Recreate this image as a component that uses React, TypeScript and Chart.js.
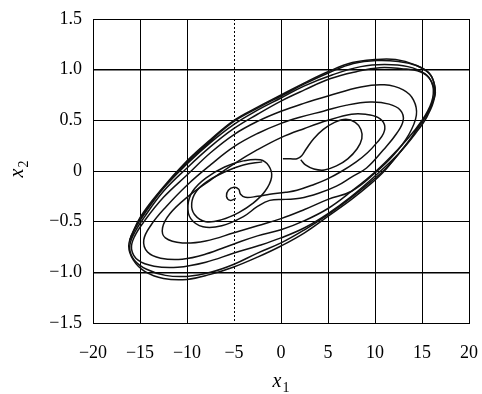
import React, { useEffect, useRef } from "react";
import { Chart, registerables } from "chart.js";

Chart.register(...registerables);

// Axis ticks
const xTicks: number[] = [-20, -15, -10, -5, 0, 5, 10, 15, 20];
const yTicks: number[] = [-1.5, -1.0, -0.5, 0, 0.5, 1.0, 1.5];
const dottedGridX = -5;
const thickGridY: number[] = [-1.0, 1.0];

// Trajectory starting near the right focus (short lead-in + inner right loop)
const rightStartLoop: [number, number][] = [
  [0.2, 0.12], [1.0, 0.12], [1.7, 0.12], [2.2, 0.15], [2.7, 0.22], [3.5, 0.32],
  [4.5, 0.41], [5.7, 0.48], [6.9, 0.51], [7.9, 0.48], [8.5, 0.41], [8.6, 0.32],
  [8.1, 0.22], [7.1, 0.12], [5.9, 0.05], [4.6, 0.01], [3.5, 0.02], [2.6, 0.06],
  [2.1, 0.11],
];

// Trajectory starting at the small loop near the left focus
const leftStartSpiral: [number, number][] = [
  [-4.8, -0.27], [-5.4, -0.29], [-5.8, -0.25], [-5.6, -0.19], [-5.0, -0.16], [-4.5, -0.18],
  [-4.3, -0.23], [-3.8, -0.26], [-2.5, -0.25], [-1.2, -0.23], [0.5, -0.21], [1.7, -0.19],
  [3.3, -0.14], [4.9, -0.08], [6.5, 0.0], [8.0, 0.09], [9.2, 0.18], [10.2, 0.28],
  [10.9, 0.37], [11.0, 0.46], [10.3, 0.53], [9.0, 0.56], [7.5, 0.56], [5.0, 0.5],
  [2.5, 0.42], [0.0, 0.33], [-2.5, 0.21], [-5.0, 0.07], [-7.5, -0.09], [-10.0, -0.26],
  [-11.8, -0.42], [-12.6, -0.56], [-12.3, -0.66], [-10.5, -0.71], [-8.0, -0.69], [-5.0, -0.61],
  [-2.5, -0.54], [0.0, -0.47], [2.5, -0.38], [5.0, -0.28], [7.5, -0.2], [10.0, -0.02],
  [12.0, 0.16], [13.6, 0.36], [14.4, 0.55], [14.1, 0.7], [13.0, 0.8], [11.0, 0.85],
  [8.5, 0.83], [5.0, 0.74], [2.5, 0.67], [0.0, 0.59], [-2.5, 0.49], [-5.0, 0.36],
  [-7.5, 0.18], [-10.0, -0.04], [-12.5, -0.26], [-14.5, -0.49], [-15.6, -0.65], [-15.9, -0.77],
  [-15.2, -0.88], [-13.5, -0.94], [-11.0, -0.95], [-8.0, -0.9], [-5.0, -0.81], [-2.5, -0.74],
  [0.0, -0.66], [2.5, -0.56], [5.0, -0.42], [7.5, -0.25], [10.0, -0.05], [12.5, 0.17],
  [14.3, 0.37], [15.6, 0.55], [16.3, 0.72], [16.1, 0.86], [15.3, 0.96], [13.5, 1.03],
  [11.0, 1.05], [8.5, 1.03], [5.5, 0.95], [2.5, 0.84], [0.0, 0.72], [-2.5, 0.6],
  [-5.0, 0.46], [-7.5, 0.28], [-10.0, 0.07], [-12.5, -0.17], [-14.5, -0.42], [-15.7, -0.6],
  [-16.2, -0.74], [-15.7, -0.88], [-14.5, -0.99], [-12.5, -1.06], [-10.0, -1.07], [-7.5, -1.02],
  [-5.1, -0.95], [-2.5, -0.85], [0.0, -0.74], [2.5, -0.61], [5.1, -0.44], [7.5, -0.28],
  [9.5, -0.13], [11.0, 0.0], [12.5, 0.17], [14.3, 0.37], [15.5, 0.53], [16.2, 0.68],
  [16.4, 0.8], [15.9, 0.95], [14.4, 1.04], [12.5, 1.08], [10.2, 1.09], [7.7, 1.06],
  [5.1, 0.97], [2.5, 0.86], [0.0, 0.74], [-2.5, 0.62], [-5.0, 0.49], [-7.5, 0.3],
  [-10.0, 0.09], [-13.0, -0.22], [-15.0, -0.47], [-16.0, -0.65],
];

// Trajectory around the left focus (double inner loop) spiralling outward
const innerLeftSpiral: [number, number][] = [
  [-2.0, 0.09], [-4.0, 0.06], [-6.0, -0.01], [-7.8, -0.1], [-9.0, -0.2], [-9.5, -0.32],
  [-9.2, -0.43], [-8.0, -0.5], [-6.3, -0.48], [-4.5, -0.41], [-3.0, -0.32], [-1.7, -0.2],
  [-1.0, -0.06], [-1.3, 0.05], [-2.2, 0.11], [-4.0, 0.1], [-6.0, 0.04], [-8.0, -0.07],
  [-9.4, -0.2], [-9.9, -0.34], [-9.6, -0.47], [-8.3, -0.55], [-6.3, -0.54], [-4.0, -0.45],
  [-2.5, -0.35], [-1.2, -0.29], [0.5, -0.28], [2.0, -0.27], [4.0, -0.22], [5.9, -0.15],
  [7.5, -0.06], [9.1, 0.03], [10.9, 0.21], [12.3, 0.37], [13.0, 0.5], [12.7, 0.6],
  [11.5, 0.66], [9.5, 0.68], [7.0, 0.65], [4.5, 0.59], [2.0, 0.53], [0.0, 0.47],
  [-2.5, 0.37], [-5.0, 0.24], [-7.5, 0.06], [-10.0, -0.14], [-12.2, -0.35], [-13.8, -0.53],
  [-14.6, -0.68], [-14.2, -0.8], [-12.8, -0.86], [-10.5, -0.87], [-8.0, -0.82], [-5.0, -0.72],
  [-2.5, -0.64], [0.0, -0.58], [2.5, -0.49], [5.0, -0.37], [7.5, -0.2], [10.0, -0.01],
  [12.3, 0.2], [14.2, 0.4], [15.6, 0.59], [16.2, 0.76], [15.9, 0.9], [14.8, 0.98],
  [12.8, 1.01], [10.5, 1.02], [8.0, 0.98], [5.2, 0.91], [2.5, 0.8], [0.0, 0.69],
  [-2.5, 0.56], [-5.0, 0.42], [-7.5, 0.24], [-10.0, 0.03], [-12.5, -0.2], [-14.5, -0.45],
  [-15.7, -0.63], [-16.1, -0.76], [-15.6, -0.88], [-14.3, -0.97], [-12.3, -1.03], [-10.0, -1.04],
  [-7.5, -1.0], [-5.0, -0.92], [-2.5, -0.81], [0.0, -0.71], [2.5, -0.58], [5.0, -0.43],
  [7.5, -0.26], [9.5, -0.11], [11.2, 0.03], [12.8, 0.2], [14.4, 0.4], [15.6, 0.57],
  [16.3, 0.72], [16.4, 0.82], [15.8, 0.96], [14.2, 1.05], [12.2, 1.1], [10.0, 1.1],
  [7.6, 1.07], [5.0, 0.98], [2.5, 0.87], [0.0, 0.75], [-2.5, 0.63], [-5.0, 0.5],
  [-7.5, 0.31], [-10.0, 0.1], [-12.9, -0.2], [-15.0, -0.46], [-16.1, -0.68],
];

const SERIF = "'Liberation Serif', 'Times New Roman', Times, serif";
const MINUS = "\u2212";

const toPoints = (arr: [number, number][]) => arr.map(([x, y]) => ({ x, y }));

function drawSubLabel(ctx: CanvasRenderingContext2D, main: string, sub: string, cx: number, baseline: number) {
  const mainFont = `italic 20px ${SERIF}`;
  const subFont = `14px ${SERIF}`;
  ctx.font = mainFont;
  const wm = ctx.measureText(main).width;
  ctx.font = subFont;
  const ws = ctx.measureText(sub).width;
  const start = cx - (wm + ws + 1) / 2;
  ctx.textAlign = "left";
  ctx.textBaseline = "alphabetic";
  ctx.font = mainFont;
  ctx.fillText(main, start, baseline);
  ctx.font = subFont;
  ctx.fillText(sub, start + wm + 1, baseline + 5);
}

const decorPlugin = {
  id: "decor",
  beforeDatasetsDraw(chart: any) {
    const { ctx, chartArea, scales } = chart;
    const px = Math.round(scales.x.getPixelForValue(dottedGridX)) + 0.5;
    ctx.save();
    ctx.strokeStyle = "#000";
    ctx.lineWidth = 1;
    ctx.setLineDash([2, 2]);
    ctx.beginPath();
    ctx.moveTo(px, chartArea.top);
    ctx.lineTo(px, chartArea.bottom);
    ctx.stroke();
    ctx.restore();
  },
  afterDraw(chart: any) {
    const { ctx, chartArea } = chart;
    ctx.save();
    ctx.fillStyle = "#000";
    drawSubLabel(ctx, "x", "1", (chartArea.left + chartArea.right) / 2, 387);
    ctx.translate(23, 169);
    ctx.rotate(-Math.PI / 2);
    drawSubLabel(ctx, "x", "2", 0, 0);
    ctx.restore();
  },
};

const fmtX = (v: number) => (v < 0 ? MINUS + Math.abs(v) : String(v));
const fmtY = (v: number) => (Math.abs(v) < 1e-9 ? "0" : (v < 0 ? MINUS : "") + Math.abs(v).toFixed(1));

export default function App() {
  const canvasRef = useRef<HTMLCanvasElement | null>(null);

  useEffect(() => {
    if (!canvasRef.current) return;
    const lineStyle = {
      showLine: true,
      borderColor: "#111",
      borderWidth: 1.5,
      pointRadius: 0,
      tension: 0.4,
      fill: false,
    };
    const chart = new Chart(canvasRef.current, {
      type: "scatter",
      data: {
        datasets: [
          { label: "right start", data: toPoints(rightStartLoop), ...lineStyle },
          { label: "left start", data: toPoints(leftStartSpiral), ...lineStyle },
          { label: "inner left", data: toPoints(innerLeftSpiral), ...lineStyle },
        ],
      },
      options: {
        animation: false,
        responsive: false,
        maintainAspectRatio: false,
        layout: { padding: { left: 0, top: 19, right: 13, bottom: 0 } },
        plugins: { legend: { display: false }, tooltip: { enabled: false } },
        scales: {
          x: {
            type: "linear",
            min: -20,
            max: 20,
            afterBuildTicks: (s: any) => {
              s.ticks = xTicks.map((v) => ({ value: v }));
            },
            afterFit: (s: any) => {
              s.height = 71;
              s.paddingLeft = 0;
              s.paddingRight = 0;
            },
            grid: {
              color: "#000",
              lineWidth: (c: any) => (c.tick && c.tick.value === dottedGridX ? 0 : 1),
              drawTicks: false,
            },
            border: { display: true, color: "#000", width: 1 },
            ticks: {
              padding: 19,
              autoSkip: false,
              maxRotation: 0,
              color: "#000",
              font: { family: SERIF, size: 18 },
              callback: (v: any) => fmtX(Number(v)),
            },
          },
          y: {
            type: "linear",
            min: -1.5,
            max: 1.5,
            afterBuildTicks: (s: any) => {
              s.ticks = yTicks.map((v) => ({ value: v }));
            },
            afterFit: (s: any) => {
              s.width = 93;
              s.paddingTop = 0;
              s.paddingBottom = 0;
            },
            grid: {
              color: "#000",
              lineWidth: (c: any) =>
                c.tick && thickGridY.some((t) => Math.abs(t - c.tick.value) < 1e-9) ? 1.6 : 1,
              drawTicks: false,
            },
            border: { display: true, color: "#000", width: 1 },
            ticks: {
              padding: 11,
              autoSkip: false,
              color: "#000",
              font: { family: SERIF, size: 18 },
              callback: (v: any) => fmtY(Number(v)),
            },
          },
        },
      },
      plugins: [decorPlugin],
    } as any);
    return () => chart.destroy();
  }, []);

  return (
    <div style={{ position: "fixed", left: 0, top: 0, width: 482, height: 394, background: "#fff" }}>
      <canvas ref={canvasRef} width={482} height={394} />
    </div>
  );
}
